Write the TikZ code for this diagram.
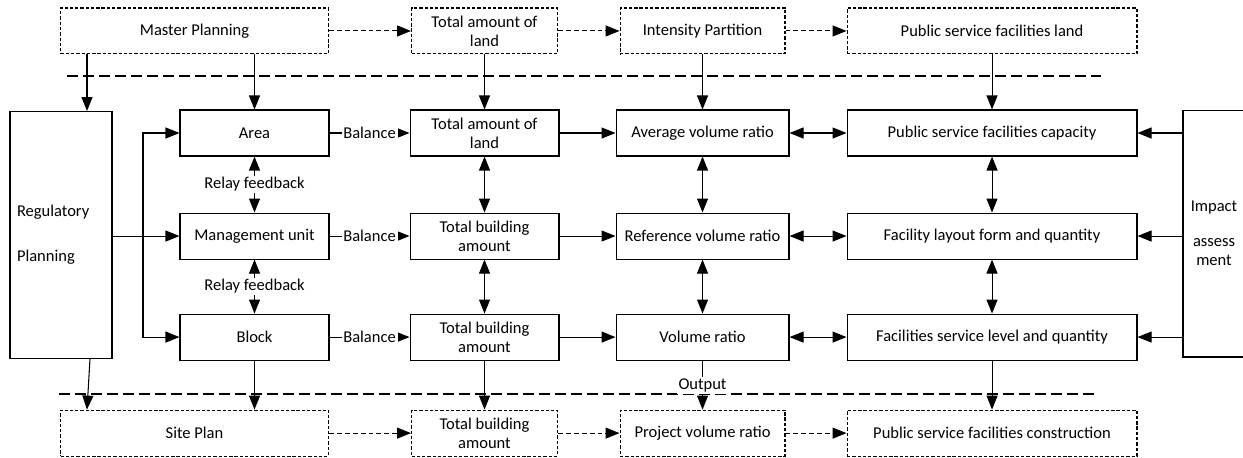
\documentclass[tikz,border=0pt]{standalone}
\usepackage{fontspec}
\setmainfont{Carlito}
\usetikzlibrary{positioning,arrows.meta}

\begin{document}
\begin{tikzpicture}[
  x=0.02cm, y=-0.02cm,
  font=\fontsize{9.4}{10.8}\selectfont,
  box/.style={draw, line width=0.6pt, minimum height=0.92cm, align=center, inner sep=2pt, fill=white},
  nbox/.style={box, minimum width=2.98cm},
  mbox/.style={box, minimum width=3.46cm},
  wbox/.style={box, minimum width=5.8cm},
  dbox/.style={box, dash pattern=on 1.9pt off 1.1pt},
  arr/.style={-{Triangle[length=0.28cm,width=0.22cm]}, line width=0.6pt},
  darr/.style={arr, dash pattern=on 2.8pt off 1.7pt},
  barr/.style={{Triangle[length=0.28cm,width=0.22cm]}-{Triangle[length=0.28cm,width=0.22cm]}, line width=0.6pt},
  sep/.style={line width=1.5pt, dash pattern=on 0.22cm off 0.1cm},
  tag/.style={fill=white, inner sep=1pt},
  node distance=1.12cm and 1.12cm
]
\useasboundingbox (0,0) rectangle (1243,457);

%% Separator lines
\draw[sep] (67,76) -- (1101,76);
\draw[sep] (59,394) -- (1095,394);

%% Main rows
\node[nbox] (area) at (254.5,133) {Area};
\node[nbox, right=1.6cm of area] (tal) {Total amount of\\land};
\node[mbox, right=1.12cm of tal] (avr) {Average volume ratio};
\node[wbox, right=1.14cm of avr] (psc) {Public service facilities capacity};

\node[nbox, below=1.12cm of area] (mgu) {Management unit};
\node[nbox, below=1.12cm of tal] (tbm) {Total building\\amount};
\node[mbox, below=1.12cm of avr] (rvr) {Reference volume ratio};
\node[wbox, below=1.12cm of psc] (flq) {Facility layout form and quantity};

\node[nbox, below=1.08cm of mgu] (blk) {Block};
\node[nbox, below=1.08cm of tbm] (tba) {Total building\\amount};
\node[mbox, below=1.08cm of rvr] (vr) {Volume ratio};
\node[wbox, below=1.08cm of flq] (fsl) {Facilities service level and quantity};

%% Side boxes
\node[box, minimum width=2.04cm, minimum height=4.94cm, text width=1.76cm,
      inner xsep=0.14cm, align=left] (reg) at (61,235) {Regulatory\\[0.52cm]Planning};
\node[box, minimum width=1.24cm, minimum height=4.94cm] (imp) at (1214,233.5)
  {Impact\\[0.32cm]assess\\ment};

%% Top row (dashed)
\node[dbox, minimum width=2.92cm, above=1.1cm of tal] (ttl) {Total amount of\\land};
\node[dbox, minimum width=5.36cm, left=1.64cm of ttl] (mp) {Master Planning};
\node[dbox, minimum width=3.3cm, above=1.1cm of avr] (ip) {Intensity Partition};
\node[dbox, minimum width=5.8cm, above=1.1cm of psc] (psl) {Public service facilities land};

%% Bottom row (dashed)
\node[dbox, minimum width=2.92cm, below=0.98cm of tba] (tbb) {Total building\\amount};
\node[dbox, minimum width=5.36cm, left=1.64cm of tbb] (sp) {Site Plan};
\node[dbox, minimum width=3.3cm, below=0.98cm of vr] (pvr) {Project volume ratio};
\node[dbox, minimum width=5.8cm, below=0.98cm of fsl] (psfc) {Public service facilities construction};

%% Top links
\draw[darr] (mp) -- (ttl);
\draw[darr] (ttl) -- (ip);
\draw[darr] (ip) -- (psl);
\coordinate (mpl) at ([xshift=0.54cm]mp.south west);
\draw[arr] (mpl) -- (mpl |- reg.north);
\draw[arr] (mp.south -| area.north) -- (area.north);
\draw[arr] (ttl) -- (tal);
\draw[arr] (ip) -- (avr);
\draw[arr] (psl) -- (psc);

%% Regulatory planning fork
\coordinate (fork) at (143,235);
\draw[arr] (reg.east |- mgu) -- (mgu);
\draw[arr] (fork) |- (area.west);
\draw[arr] (fork) |- (blk.west);

%% Balance links
\draw[arr] (area) -- node[tag] {Balance} (tal);
\draw[arr] (mgu) -- node[tag] {Balance} (tbm);
\draw[arr] (blk) -- node[tag] {Balance} (tba);

\draw[barr] (area) -- node[tag] {Relay feedback} (mgu);
\draw[barr] (mgu) -- node[tag] {Relay feedback} (blk);

%% Column links
\draw[arr] (tal) -- (avr);
\draw[arr] (tbm) -- (rvr);
\draw[arr] (tba) -- (vr);
\draw[barr] (avr) -- (psc);
\draw[barr] (rvr) -- (flq);
\draw[barr] (vr) -- (fsl);
\draw[barr] (tal) -- (tbm);
\draw[barr] (tbm) -- (tba);
\draw[barr] (avr) -- (rvr);
\draw[barr] (rvr) -- (vr);
\draw[barr] (psc) -- (flq);
\draw[barr] (flq) -- (fsl);

%% Impact assessment
\draw[arr] (imp.west |- psc) -- (psc);
\draw[arr] (imp.west |- flq) -- (flq);
\draw[arr] (imp.west |- fsl) -- (fsl);

%% Bottom links
\coordinate (rgb) at ([xshift=0.58cm]reg.south);
\draw[arr] (rgb) -- ([xshift=0.54cm]sp.north west);
\draw[arr] (blk.south) -- (blk.south |- sp.north);
\draw[arr] (tba) -- (tbb);
\draw[arr] (vr) -- node[tag] {Output} (pvr);
\draw[arr] (fsl) -- (psfc);
\draw[darr] (sp) -- (tbb);
\draw[darr] (tbb) -- (pvr);
\draw[darr] (pvr) -- (psfc);
\end{tikzpicture}
\end{document}
